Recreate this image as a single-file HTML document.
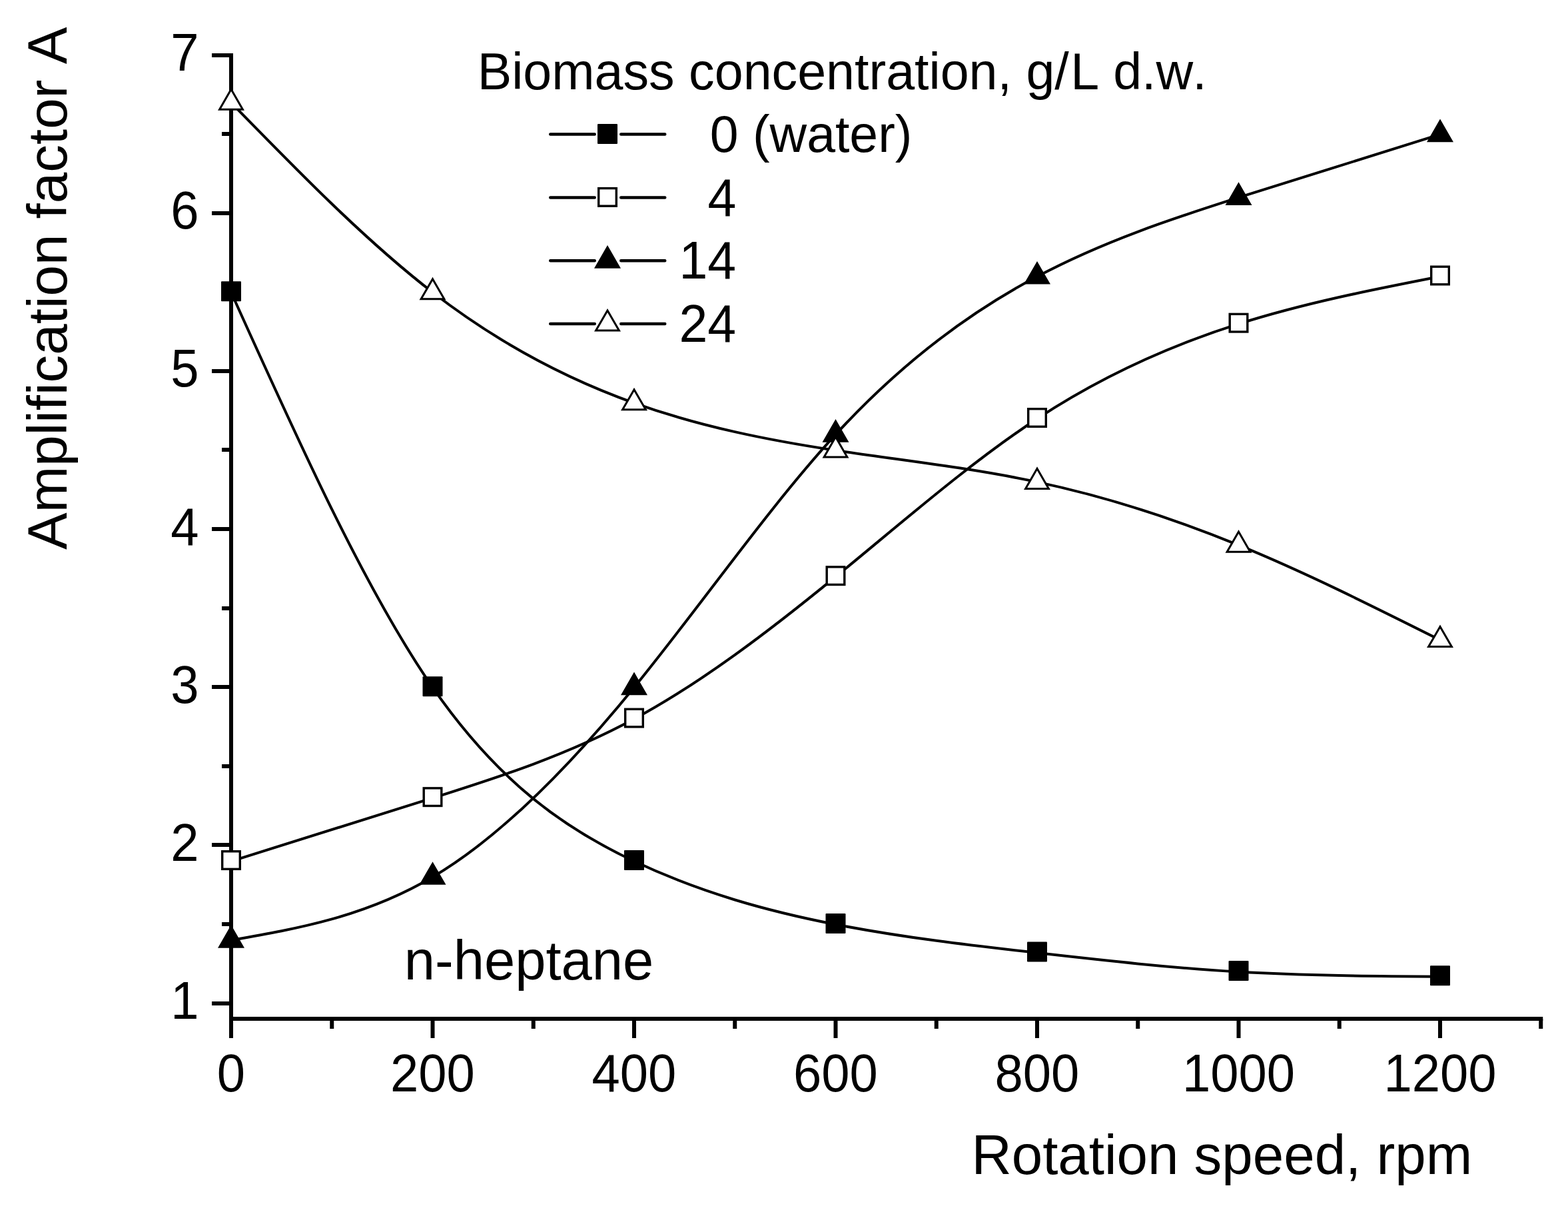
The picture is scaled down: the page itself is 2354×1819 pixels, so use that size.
<!DOCTYPE html>
<html><head><meta charset="utf-8"><title>Amplification factor chart</title>
<style>html,body{margin:0;padding:0;background:#fff;}svg{display:block;}</style>
</head><body>
<svg width="2354" height="1819" viewBox="0 0 2354 1819">
<rect width="2354" height="1819" fill="#fff"/>
<g font-family="'Liberation Sans', Arial, sans-serif" fill="#000">
<text transform="translate(298.5,1529.0) scale(1,1.04)" text-anchor="end" font-size="76">1</text>
<text transform="translate(298.5,1291.8) scale(1,1.04)" text-anchor="end" font-size="76">2</text>
<text transform="translate(298.5,1054.7) scale(1,1.04)" text-anchor="end" font-size="76">3</text>
<text transform="translate(298.5,817.5) scale(1,1.04)" text-anchor="end" font-size="76">4</text>
<text transform="translate(298.5,580.3) scale(1,1.04)" text-anchor="end" font-size="76">5</text>
<text transform="translate(298.5,343.2) scale(1,1.04)" text-anchor="end" font-size="76">6</text>
<text transform="translate(298.5,106.0) scale(1,1.04)" text-anchor="end" font-size="76">7</text>
<text transform="translate(347.00,1638) scale(1,1.04)" text-anchor="middle" font-size="76">0</text>
<text transform="translate(649.50,1638) scale(1,1.04)" text-anchor="middle" font-size="76">200</text>
<text transform="translate(952.00,1638) scale(1,1.04)" text-anchor="middle" font-size="76">400</text>
<text transform="translate(1254.50,1638) scale(1,1.04)" text-anchor="middle" font-size="76">600</text>
<text transform="translate(1557.00,1638) scale(1,1.04)" text-anchor="middle" font-size="76">800</text>
<text transform="translate(1859.50,1638) scale(1,1.04)" text-anchor="middle" font-size="76">1000</text>
<text transform="translate(2162.00,1638) scale(1,1.04)" text-anchor="middle" font-size="76">1200</text>
<text transform="translate(100,825) rotate(-90)" font-size="83.5">Amplification factor<tspan dx="4.8"> A</tspan></text>
<text x="1458.4" y="1762" font-size="83.5">Rotation speed, rpm</text>
<text x="716.7" y="133.8" font-size="77.2">Biomass concentration, g/<tspan dx="2.4">L</tspan><tspan dx="2.4"> d.w</tspan><tspan dx="3.2">.</tspan></text>
<text x="606.7" y="1470" font-size="83.2">n-heptane</text>
<text x="1065.7" y="227.8" font-size="77">0 (water)</text>
<text transform="translate(1105.2,324) scale(1,1.04)" text-anchor="end" font-size="77">4</text>
<text transform="translate(1105.2,418) scale(1,1.04)" text-anchor="end" font-size="77">14</text>
<text transform="translate(1105.2,512.5) scale(1,1.04)" text-anchor="end" font-size="77">24</text>
</g>
<line x1="347" y1="80" x2="347" y2="1532" stroke="#000" stroke-width="6"/>
<line x1="344" y1="1529" x2="2316.25" y2="1529" stroke="#000" stroke-width="6"/>
<line x1="318" y1="1506.00" x2="347" y2="1506.00" stroke="#000" stroke-width="6"/>
<line x1="318" y1="1268.00" x2="347" y2="1268.00" stroke="#000" stroke-width="6"/>
<line x1="318" y1="1031.00" x2="347" y2="1031.00" stroke="#000" stroke-width="6"/>
<line x1="318" y1="794.00" x2="347" y2="794.00" stroke="#000" stroke-width="6"/>
<line x1="318" y1="557.00" x2="347" y2="557.00" stroke="#000" stroke-width="6"/>
<line x1="318" y1="320.00" x2="347" y2="320.00" stroke="#000" stroke-width="6"/>
<line x1="318" y1="83.00" x2="347" y2="83.00" stroke="#000" stroke-width="6"/>
<line x1="333" y1="1387.00" x2="347" y2="1387.00" stroke="#000" stroke-width="6"/>
<line x1="333" y1="1150.00" x2="347" y2="1150.00" stroke="#000" stroke-width="6"/>
<line x1="333" y1="913.00" x2="347" y2="913.00" stroke="#000" stroke-width="6"/>
<line x1="333" y1="675.00" x2="347" y2="675.00" stroke="#000" stroke-width="6"/>
<line x1="333" y1="438.00" x2="347" y2="438.00" stroke="#000" stroke-width="6"/>
<line x1="333" y1="201.00" x2="347" y2="201.00" stroke="#000" stroke-width="6"/>
<line x1="347.00" y1="1529" x2="347.00" y2="1558" stroke="#000" stroke-width="6"/>
<line x1="649.50" y1="1529" x2="649.50" y2="1558" stroke="#000" stroke-width="6"/>
<line x1="952.00" y1="1529" x2="952.00" y2="1558" stroke="#000" stroke-width="6"/>
<line x1="1254.50" y1="1529" x2="1254.50" y2="1558" stroke="#000" stroke-width="6"/>
<line x1="1557.00" y1="1529" x2="1557.00" y2="1558" stroke="#000" stroke-width="6"/>
<line x1="1859.50" y1="1529" x2="1859.50" y2="1558" stroke="#000" stroke-width="6"/>
<line x1="2162.00" y1="1529" x2="2162.00" y2="1558" stroke="#000" stroke-width="6"/>
<line x1="498.25" y1="1529" x2="498.25" y2="1544" stroke="#000" stroke-width="6"/>
<line x1="800.75" y1="1529" x2="800.75" y2="1544" stroke="#000" stroke-width="6"/>
<line x1="1103.25" y1="1529" x2="1103.25" y2="1544" stroke="#000" stroke-width="6"/>
<line x1="1405.75" y1="1529" x2="1405.75" y2="1544" stroke="#000" stroke-width="6"/>
<line x1="1708.25" y1="1529" x2="1708.25" y2="1544" stroke="#000" stroke-width="6"/>
<line x1="2010.75" y1="1529" x2="2010.75" y2="1544" stroke="#000" stroke-width="6"/>
<line x1="2313.25" y1="1529" x2="2313.25" y2="1544" stroke="#000" stroke-width="6"/>
<path d="M347.00,438.75 C447.83,662.39 548.67,886.03 649.50,1031.67 C750.33,1177.30 851.17,1244.93 952.00,1292.55 C1052.83,1340.17 1153.67,1367.78 1254.50,1387.42 C1355.33,1407.05 1456.17,1418.70 1557.00,1430.11 C1657.83,1441.51 1758.67,1452.68 1859.50,1458.57 C1960.33,1464.46 2061.17,1465.07 2162.00,1465.68" fill="none" stroke="#000" stroke-width="4.0"/>
<path d="M347.00,1292.55 C447.83,1261.06 548.67,1229.57 649.50,1197.68 C750.33,1165.80 851.17,1133.52 952.00,1079.10 C1052.83,1024.68 1153.67,948.13 1254.50,865.65 C1355.33,783.17 1456.17,694.76 1557.00,628.48 C1657.83,562.21 1758.67,518.07 1859.50,486.18 C1960.33,454.30 2061.17,434.67 2162.00,415.03" fill="none" stroke="#000" stroke-width="4.0"/>
<path d="M347.00,1411.13 C447.83,1393.47 548.67,1375.80 649.50,1316.27 C750.33,1256.73 851.17,1155.33 952.00,1031.67 C1052.83,908.01 1153.67,762.09 1254.50,652.20 C1355.33,542.31 1456.17,468.46 1557.00,415.03 C1657.83,361.61 1758.67,328.62 1859.50,296.45 C1960.33,264.28 2061.17,232.93 2162.00,201.58" fill="none" stroke="#000" stroke-width="4.0"/>
<path d="M347.00,154.15 C447.83,257.55 548.67,360.95 649.50,438.75 C750.33,516.55 851.17,568.75 952.00,604.77 C1052.83,640.79 1153.67,660.63 1254.50,675.92 C1355.33,691.20 1456.17,701.92 1557.00,723.35 C1657.83,744.78 1758.67,776.91 1859.50,818.22 C1960.33,859.53 2061.17,910.02 2162.00,960.52" fill="none" stroke="#000" stroke-width="4.0"/>
<rect x="332.00" y="422.25" width="30.0" height="30.0" rx="1" fill="#000"/>
<rect x="634.50" y="1015.17" width="30.0" height="30.0" rx="1" fill="#000"/>
<rect x="937.00" y="1276.05" width="30.0" height="30.0" rx="1" fill="#000"/>
<rect x="1239.50" y="1370.92" width="30.0" height="30.0" rx="1" fill="#000"/>
<rect x="1542.00" y="1413.61" width="30.0" height="30.0" rx="1" fill="#000"/>
<rect x="1844.50" y="1442.07" width="30.0" height="30.0" rx="1" fill="#000"/>
<rect x="2147.00" y="1449.18" width="30.0" height="30.0" rx="1" fill="#000"/>
<rect x="333.70" y="1277.75" width="26.60" height="26.60" fill="#fff" stroke="#000" stroke-width="3.4"/>
<rect x="636.20" y="1182.88" width="26.60" height="26.60" fill="#fff" stroke="#000" stroke-width="3.4"/>
<rect x="938.70" y="1064.30" width="26.60" height="26.60" fill="#fff" stroke="#000" stroke-width="3.4"/>
<rect x="1241.20" y="850.85" width="26.60" height="26.60" fill="#fff" stroke="#000" stroke-width="3.4"/>
<rect x="1543.70" y="613.68" width="26.60" height="26.60" fill="#fff" stroke="#000" stroke-width="3.4"/>
<rect x="1846.20" y="471.38" width="26.60" height="26.60" fill="#fff" stroke="#000" stroke-width="3.4"/>
<rect x="2148.70" y="400.23" width="26.60" height="26.60" fill="#fff" stroke="#000" stroke-width="3.4"/>
<polygon points="347.00,1391.04 364.40,1421.18 329.60,1421.18" fill="#000" stroke="#000" stroke-width="3.0" stroke-linejoin="miter"/>
<polygon points="649.50,1296.18 666.90,1326.31 632.10,1326.31" fill="#000" stroke="#000" stroke-width="3.0" stroke-linejoin="miter"/>
<polygon points="952.00,1011.58 969.40,1041.71 934.60,1041.71" fill="#000" stroke="#000" stroke-width="3.0" stroke-linejoin="miter"/>
<polygon points="1254.50,632.11 1271.90,662.25 1237.10,662.25" fill="#000" stroke="#000" stroke-width="3.0" stroke-linejoin="miter"/>
<polygon points="1557.00,394.94 1574.40,425.08 1539.60,425.08" fill="#000" stroke="#000" stroke-width="3.0" stroke-linejoin="miter"/>
<polygon points="1859.50,276.36 1876.90,306.50 1842.10,306.50" fill="#000" stroke="#000" stroke-width="3.0" stroke-linejoin="miter"/>
<polygon points="2162.00,181.49 2179.40,211.63 2144.60,211.63" fill="#000" stroke="#000" stroke-width="3.0" stroke-linejoin="miter"/>
<polygon points="347.00,134.06 364.40,164.20 329.60,164.20" fill="#fff" stroke="#000" stroke-width="3.0" stroke-linejoin="miter"/>
<polygon points="649.50,418.66 666.90,448.80 632.10,448.80" fill="#fff" stroke="#000" stroke-width="3.0" stroke-linejoin="miter"/>
<polygon points="952.00,584.67 969.40,614.81 934.60,614.81" fill="#fff" stroke="#000" stroke-width="3.0" stroke-linejoin="miter"/>
<polygon points="1254.50,655.82 1271.90,685.96 1237.10,685.96" fill="#fff" stroke="#000" stroke-width="3.0" stroke-linejoin="miter"/>
<polygon points="1557.00,703.26 1574.40,733.40 1539.60,733.40" fill="#fff" stroke="#000" stroke-width="3.0" stroke-linejoin="miter"/>
<polygon points="1859.50,798.12 1876.90,828.26 1842.10,828.26" fill="#fff" stroke="#000" stroke-width="3.0" stroke-linejoin="miter"/>
<polygon points="2162.00,940.43 2179.40,970.56 2144.60,970.56" fill="#fff" stroke="#000" stroke-width="3.0" stroke-linejoin="miter"/>
<path d="M826.3,201.5 H892.7 M932.3,201.5 H998.2" stroke="#000" stroke-width="4.6" stroke-linecap="round" fill="none"/>
<rect x="897.00" y="185.90" width="30.0" height="30.0" rx="1" fill="#000"/>
<path d="M826.3,296.5 H892.7 M932.3,296.5 H998.2" stroke="#000" stroke-width="4.6" stroke-linecap="round" fill="none"/>
<rect x="898.70" y="282.60" width="26.60" height="26.60" fill="#fff" stroke="#000" stroke-width="3.4"/>
<path d="M826.3,391.2 H892.7 M932.3,391.2 H998.2" stroke="#000" stroke-width="4.6" stroke-linecap="round" fill="none"/>
<polygon points="912.00,371.11 929.40,401.25 894.60,401.25" fill="#000" stroke="#000" stroke-width="3.0" stroke-linejoin="miter"/>
<path d="M826.3,486 H892.7 M932.3,486 H998.2" stroke="#000" stroke-width="4.6" stroke-linecap="round" fill="none"/>
<polygon points="912.00,465.91 929.40,496.05 894.60,496.05" fill="#fff" stroke="#000" stroke-width="3.0" stroke-linejoin="miter"/>
</svg>
</body></html>
